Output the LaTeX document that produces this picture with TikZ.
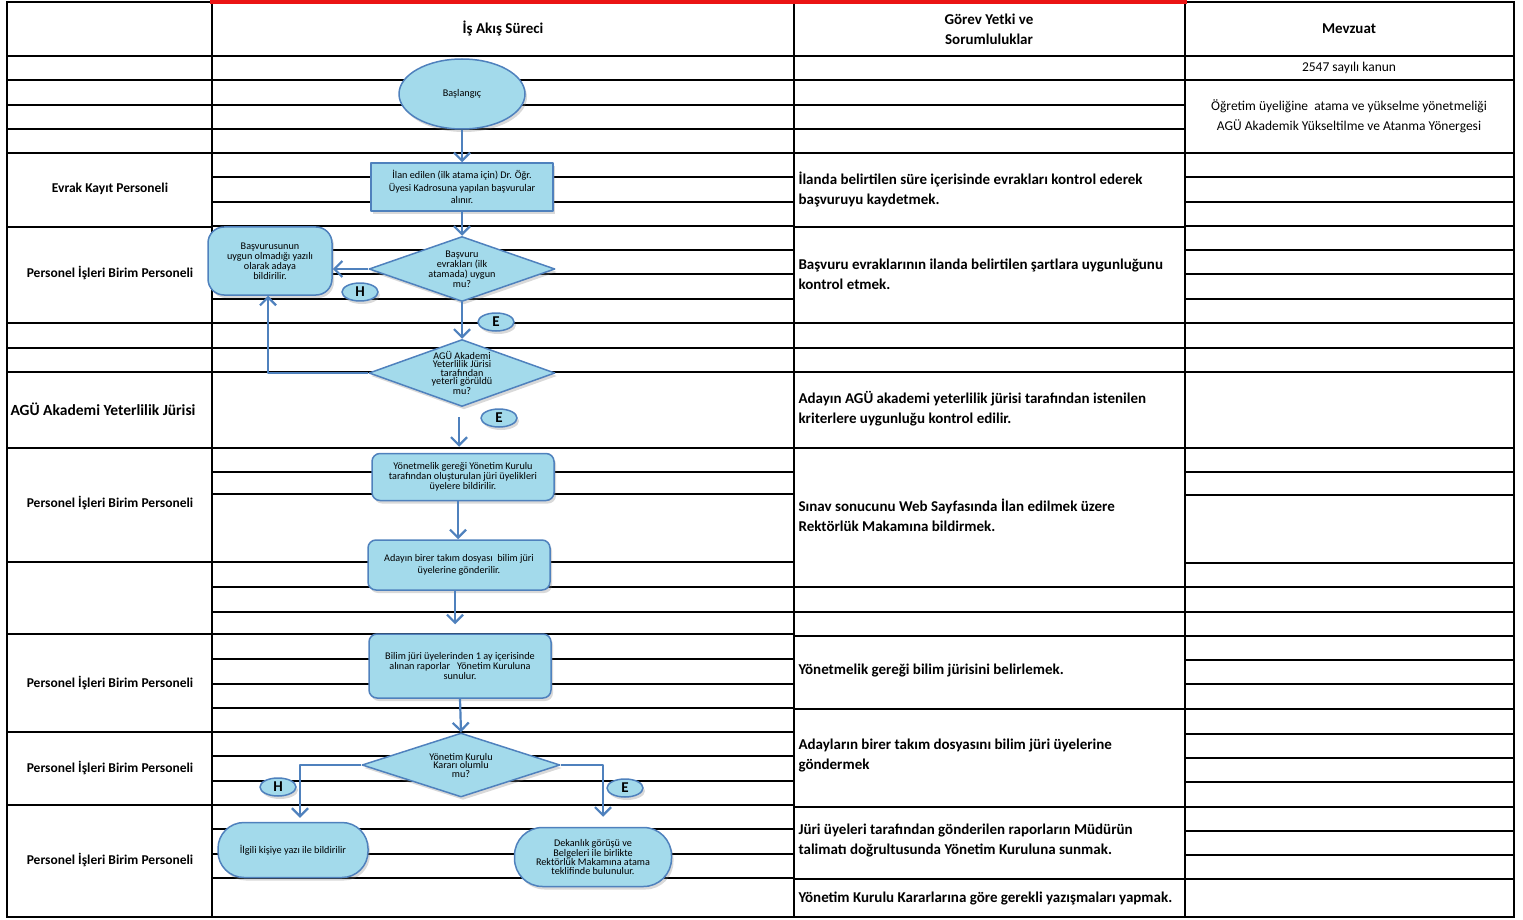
\documentclass[tikz,border=0pt]{standalone}
\usepackage{fontspec}
\setmainfont{Carlito}
\usetikzlibrary{shapes.geometric,shadows,arrows.meta}

\definecolor{boxfill}{RGB}{163,218,235}
\definecolor{boxline}{RGB}{79,129,189}
\definecolor{headred}{RGB}{235,20,20}

\begin{document}
\begin{tikzpicture}[x=1pt, y=-1pt, line cap=rect, line join=round,
    grid/.style={line width=2.2pt, black},
    shade box/.style={draw=boxline, line width=1.5pt, fill=boxfill,
        drop shadow={shadow xshift=2pt, shadow yshift=-3pt, opacity=0.3},
        align=center, inner sep=1pt, font=\fontsize{10.2}{11}\selectfont},
    stepbox/.style={shade box, rectangle, minimum width=182pt, minimum height=48pt},
    decision/.style={shade box, diamond, inner sep=0pt, minimum width=186pt, minimum height=65pt},
    decision text/.style={align=center, inner sep=0pt, font=\fontsize{10.2}{8.5}\selectfont},
    yesno/.style={shade box, ellipse, minimum width=36pt, minimum height=18pt,
        inner sep=0pt, font=\fontsize{15}{15}\selectfont\bfseries},
    flowarrow/.style={draw=boxline, line width=2.2pt, line cap=butt,
        -{Straight Barb[length=8pt, width=16pt]}},
    lane/.style={font=\fontsize{13.5}{14}\selectfont\bfseries},
    duty/.style={anchor=west, align=left, font=\fontsize{15}{20}\selectfont\bfseries},
    law/.style={align=center, font=\fontsize{13.5}{20}\selectfont}]
    \useasboundingbox (0,0) rectangle (1523,920);

    % table
    \foreach \y in {56,80,105,129,153,227,323,348,372,448,562,634,732,805}
        \draw[grid] (7,\y) -- (212,\y);
    \foreach \y in {56,80,105,129,153,177,202,226,250,274,299,323,348,372,448,472,494,
            562,587,612,634,659,684,708,732,756,781,805,829,854,878}
        \draw[grid] (212,\y) -- (794,\y);
    \foreach \y in {56,80,105,129,153,227,323,348,372,448,587,612,636,709,807,879}
        \draw[grid] (794,\y) -- (1185,\y);
    \foreach \y in {56,80,153,177,202,226,250,274,299,323,348,372,448,472,495,
            563,587,612,636,660,684,709,734,758,782,807,831,855,879}
        \draw[grid] (1185,\y) -- (1514,\y);
    \draw[grid] (7,2) -- (212,2) (1185,2) -- (1514,2) (7,917) -- (1514,917);
    \foreach \x in {7,212,794,1185,1514}
        \draw[grid] (\x,2) -- (\x,917);
    \draw[headred, line width=3.5pt] (212,2) -- (1185,2);

    % headings
    \node[font=\fontsize{15}{20}\selectfont\bfseries] (h-flow) at (503,28) {İş Akış Süreci};
    \node[font=\fontsize{15}{20}\selectfont\bfseries, align=center] (h-duty) at (989,29) {Görev Yetki ve\\Sorumluluklar};
    \node[font=\fontsize{15}{20}\selectfont\bfseries] (h-law) at (1349,29) {Mevzuat};

    % lanes
    \node[lane] (l1) at (110,189) {Evrak Kayıt Personeli};
    \node[lane] (l2) at (110,273) {Personel İşleri Birim Personeli};
    \node[lane, font=\fontsize{15.5}{16}\selectfont\bfseries, anchor=west] (l3) at (7,409) {AGÜ Akademi Yeterlilik Jürisi};
    \node[lane] (l4) at (110,503) {Personel İşleri Birim Personeli};
    \node[lane] (l5) at (110,683) {Personel İşleri Birim Personeli};
    \node[lane] (l6) at (110,768) {Personel İşleri Birim Personeli};
    \node[lane] (l7) at (110,860) {Personel İşleri Birim Personeli};

    % duties
    \node[duty] (g1) at (795,189) {İlanda belirtilen süre içerisinde evrakları kontrol ederek\\başvuruyu kaydetmek.};
    \node[duty] (g2) at (795,274) {Başvuru evraklarının ilanda belirtilen şartlara uygunluğunu\\kontrol etmek.};
    \node[duty] (g3) at (795,409) {Adayın AGÜ akademi yeterlilik jürisi tarafından istenilen\\kriterlere uygunluğu kontrol edilir.};
    \node[duty] (g4) at (795,515) {Sınav sonucunu Web Sayfasında İlan edilmek üzere\\Rektörlük Makamına bildirmek.};
    \node[duty] (g5) at (795,671) {Yönetmelik gereği bilim jürisini belirlemek.};
    \node[duty] (g6) at (795,756) {Adayların birer takım dosyasını bilim jüri üyelerine\\göndermek};
    \node[duty] (g7) at (795,841) {Jüri üyeleri tarafından gönderilen raporların Müdürün\\talimatı doğrultusunda Yönetim Kuruluna sunmak.};
    \node[duty] (g8) at (795,898) {Yönetim Kurulu Kararlarına göre gerekli yazışmaları yapmak.};

    % laws
    \node[law] (m1) at (1349,68) {2547 sayılı kanun};
    \node[law] (m2) at (1349,116) {Öğretim üyeliğine\ \ atama ve yükselme yönetmeliği\\AGÜ Akademik Yükseltilme ve Atanma Yönergesi};

    % flow
    \node[shade box, ellipse, minimum width=126pt, minimum height=70pt] (start) at (462,94) {Başlangıç};
    \node[stepbox, font=\fontsize{10.2}{12.5}\selectfont] (apply) at (462,187) {İlan edilen (ilk atama için) Dr. Öğr.\\Üyesi Kadrosuna yapılan başvurular\\alınır.};
    \node[decision, label={[decision text]center:{Başvuru\\evrakları (ilk\\atamada) uygun\\mu?}}] (check) at (462,269) {};
    \node[shade box, rectangle, rounded corners=16pt, minimum width=124pt, minimum height=68pt,
        font=\fontsize{10.2}{10}\selectfont] (reject) at (270,261) {Başvurusunun\\uygun olmadığı yazılı\\olarak adaya\\bildirilir.};
    \node[decision, minimum height=67pt, label={[decision text]center:{AGÜ Akademi\\Yeterlilik Jürisi\\tarafından\\yeterli görüldü\\mu?}}] (jury) at (462,373) {};
    \node[stepbox, rounded corners=8pt, minimum height=47pt, font=\fontsize{10.2}{10}\selectfont] (members) at (463,477) {Yönetmelik gereği Yönetim Kurulu\\tarafından oluşturulan jüri üyelikleri\\üyelere bildirilir.};
    \node[stepbox, rounded corners=8pt, minimum height=50pt, font=\fontsize{10.2}{12}\selectfont] (files) at (459,565) {Adayın birer takım dosyası\ \ bilim jüri\\üyelerine gönderilir.};
    \node[stepbox, rounded corners=8pt, minimum height=64pt, font=\fontsize{10.2}{10}\selectfont] (reports) at (460,666) {Bilim jüri üyelerinden 1 ay içerisinde\\alınan raporlar\ \ \ Yönetim Kuruluna\\sunulur.};
    \node[decision, minimum width=198pt, minimum height=64pt, label={[decision text]center:{Yönetim Kurulu\\Kararı olumlu\\mu?}}] (board) at (461,765) {};
    \node[shade box, rectangle, rounded corners=26pt, minimum width=150pt, minimum height=55pt] (notify) at (293,850) {İlgili kişiye yazı ile bildirilir};
    \node[shade box, rectangle, rounded corners=28pt, minimum width=157pt, minimum height=59pt,
        font=\fontsize{10.2}{8.7}\selectfont] (propose) at (593,857) {Dekanlık görüşü ve\\Belgeleri ile birlikte\\Rektörlük Makamına atama\\teklifinde bulunulur.};

    \node[yesno] (no1) at (360,292) {H};
    \node[yesno] (yes1) at (496,322) {E};
    \node[yesno] (yes2) at (499,418) {E};
    \node[yesno] (no2) at (278,787) {H};
    \node[yesno] (yes3) at (625,788) {E};

    % arrows
    \draw[flowarrow] (start.south) -- (apply.north);
    \draw[flowarrow] (apply.south) -- (check.north);
    \draw[flowarrow] (check.west) -- (check.west -| reject.east);
    \draw[flowarrow] (check.south) -- (jury.north);
    \draw[flowarrow] (jury.west) -| ([xshift=-2pt]reject.south);
    \draw[flowarrow, shorten <=10pt, shorten >=6pt] ([xshift=-3pt]jury.south) -- ([xshift=-3pt]jury.south |- members.north);
    \draw[flowarrow] ([xshift=-5pt]members.south) -- ([xshift=-5pt]members.south |- files.north);
    \draw[flowarrow, shorten >=9pt] ([xshift=-4pt]files.south) -- ([xshift=-4pt]files.south |- reports.north);
    \draw[flowarrow] (reports.south) -- (board.north);
    \draw[flowarrow, shorten >=4pt] (board.west) -| ([xshift=7pt]notify.north);
    \draw[flowarrow, shorten >=10pt] (board.east) -| ([xshift=10pt]propose.north);
\end{tikzpicture}
\end{document}
